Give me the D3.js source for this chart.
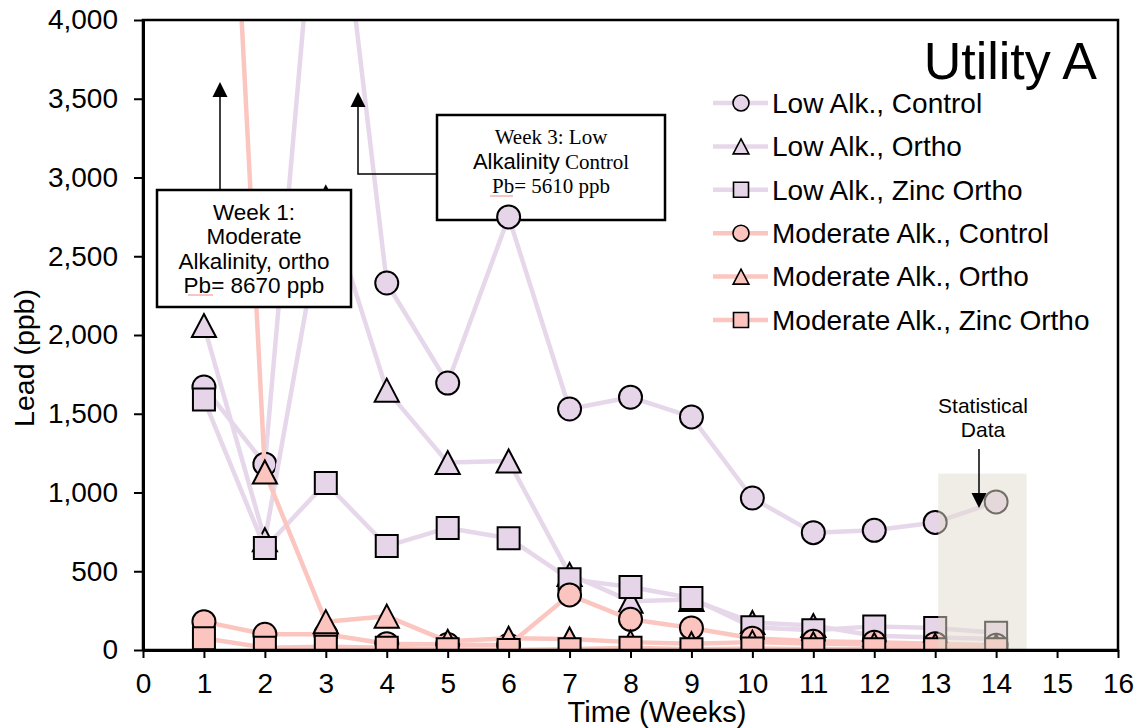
<!DOCTYPE html>
<html>
<head>
<meta charset="utf-8">
<script src="https://cdn.jsdelivr.net/npm/d3@7"></script>
<style>
  body { margin: 0; background: #fff; }
  text { font-family: "Liberation Sans", Arial, Helvetica, sans-serif; fill: #000; }
  .serif { font-family: "Liberation Serif", "Times New Roman", serif; }
</style>
</head>
<body>
<svg id="chart" width="1139" height="728"></svg>
<script>
// Lead release by week, Utility A
const weeks = [1, 2, 3, 4, 5, 6, 7, 8, 9, 10, 11, 12, 13, 14];

const lowAlkControl   = [1670, 1180, 5610, 2330, 1695, 2750, 1530, 1605, 1480, 965, 745, 760, 810, 940];
const lowAlkOrtho     = [2060, 700, 2870, 1650, 1190, 1200, 480, 310, 320, 175, 155, 90, 80, 70];
const lowAlkZincOrtho = [1590, 648, 1060, 660, 775, 710, 450, 400, 330, 145, 125, 150, 140, 110];
const modAlkControl   = [180, 100, 100, 40, 35, 30, 350, 195, 140, 75, 55, 50, 40, 30];
const modAlkOrtho     = [8670, 1130, 180, 215, 55, 75, 70, 50, 40, 50, 40, 35, 30, 25];
const modAlkZincOrtho = [75, 15, 20, 15, 5, 0, 5, 15, 5, 10, 5, 5, 5, 5];

const seriesNames = [
  "Low Alk., Control", "Low Alk., Ortho", "Low Alk., Zinc Ortho",
  "Moderate Alk., Control", "Moderate Alk., Ortho", "Moderate Alk., Zinc Ortho"
];
const seriesShapes = ["circle", "triangle", "square", "circle", "triangle", "square"];

const xTickValues = [0, 1, 2, 3, 4, 5, 6, 7, 8, 9, 10, 11, 12, 13, 14, 15, 16];
const yTickValues = [0, 500, 1000, 1500, 2000, 2500, 3000, 3500, 4000];

// Shaded band marking the weeks used for statistics
const statBand = { x0: 13.05, x1: 14.5, y0: 0, y1: 1120 };

// ---------------------------------------------------------------------------
const svg = d3.select("#chart");
const plot = { left: 143, right: 1118, top: 20, bottom: 650 };

const x = d3.scaleLinear().domain([0, 16]).range([plot.left, plot.right]);
const y = d3.scaleLinear().domain([0, 4000]).range([plot.bottom, plot.top]);

const lowLine = "#e7d7ea", lowFill = "#e6d4e8";
const modLine = "#fcc6c0", modFill = "#fbc4be";

const seriesValues = [lowAlkControl, lowAlkOrtho, lowAlkZincOrtho, modAlkControl, modAlkOrtho, modAlkZincOrtho];
const series = seriesNames.map((name, i) => ({
  name,
  shape: seriesShapes[i],
  line: i < 3 ? lowLine : modLine,
  fill: i < 3 ? lowFill : modFill,
  points: weeks.map((w, j) => ({ week: w, value: seriesValues[i][j] }))
}));

// Marker shapes sized by their bounding box (size = side^2)
const shapeTypes = {
  circle: { draw(ctx, size) { const r = Math.sqrt(size) / 2; ctx.moveTo(r, 0); ctx.arc(0, 0, r, 0, 2 * Math.PI); ctx.closePath(); } },
  square: { draw(ctx, size) { const s = Math.sqrt(size); ctx.rect(-s / 2, -s / 2, s, s); } },
  triangle: { draw(ctx, size) { const s = Math.sqrt(size), h = s / 2; ctx.moveTo(0, -h); ctx.lineTo(h * 1.05, h); ctx.lineTo(-h * 1.05, h); ctx.closePath(); } }
};
const chartSize = { circle: 23, square: 22, triangle: 23 };
const legendSize = { circle: 16, square: 15, triangle: 15 };
const markerPath = (shape, s) => d3.symbol().type(shapeTypes[shape]).size(s * s)();

// clip to plot area
svg.append("defs").append("clipPath").attr("id", "plotClip")
  .append("rect")
  .attr("x", plot.left).attr("y", plot.top)
  .attr("width", plot.right - plot.left).attr("height", plot.bottom - plot.top);

// ---- Week 3 callout box (sits beneath the data)
const box3 = { x: 437, y: 115, w: 228, h: 105 };
svg.append("rect")
  .attr("x", box3.x).attr("y", box3.y).attr("width", box3.w).attr("height", box3.h)
  .attr("fill", "#fff").attr("stroke", "#000").attr("stroke-width", 2.5);
const b3cx = box3.x + box3.w / 2;
svg.append("text").attr("class", "serif").attr("x", b3cx).attr("y", 144)
  .attr("text-anchor", "middle").style("font-size", "21px").text("Week 3: Low");
const t3b = svg.append("text").attr("x", b3cx).attr("y", 169).attr("text-anchor", "middle");
t3b.append("tspan").style("font-size", "22px").text("Alkalinity");
t3b.append("tspan").style("font-family", "'Liberation Serif', 'Times New Roman', serif").style("font-size", "21px").text(" Control");
svg.append("text").attr("class", "serif").attr("x", b3cx).attr("y", 193)
  .attr("text-anchor", "middle").style("font-size", "21px").text("Pb= 5610 ppb");
svg.append("line").attr("x1", 490).attr("x2", 513).attr("y1", 196).attr("y2", 196)
  .attr("stroke", "#f08a8a").attr("stroke-width", 1);

// ---- data series
const dataLayer = svg.append("g").attr("clip-path", "url(#plotClip)");
const lineGen = d3.line().x(d => x(d.week)).y(d => y(d.value));

series.forEach(s => {
  const g = dataLayer.append("g");
  g.append("path")
    .attr("d", lineGen(s.points))
    .attr("fill", "none")
    .attr("stroke", s.line)
    .attr("stroke-width", 4.5)
    .attr("stroke-linejoin", "round");
  g.selectAll("path.marker")
    .data(s.points)
    .join("path")
    .attr("class", "marker")
    .attr("transform", d => `translate(${x(d.week)},${y(d.value)})`)
    .attr("d", markerPath(s.shape, chartSize[s.shape]))
    .attr("fill", s.fill)
    .attr("stroke", "#000")
    .attr("stroke-width", 2);
});

// ---- statistical data band (translucent overlay)
svg.append("rect")
  .attr("x", x(statBand.x0)).attr("y", y(statBand.y1))
  .attr("width", x(statBand.x1) - x(statBand.x0))
  .attr("height", y(statBand.y0) - y(statBand.y1))
  .attr("fill", "rgb(225,219,205)").attr("fill-opacity", 0.5);

// ---- axes
const yAxis = d3.axisLeft(y).tickValues(yTickValues).tickFormat(d3.format(","))
  .tickSize(9).tickSizeOuter(0).tickPadding(16);
const xAxis = d3.axisBottom(x).tickValues(xTickValues).tickFormat(d3.format("d"))
  .tickSize(8).tickSizeOuter(0).tickPadding(15);

const gy = svg.append("g").attr("transform", `translate(${plot.left},0)`).call(yAxis);
const gx = svg.append("g").attr("transform", `translate(0,${plot.bottom})`).call(xAxis);
[gx, gy].forEach(g => {
  g.select(".domain").attr("stroke", "#000").attr("stroke-width", 3);
  g.selectAll(".tick line").attr("stroke", "#000").attr("stroke-width", 2);
  g.selectAll(".tick text").attr("fill", "#000")
    .style("font-family", "'Liberation Sans', Arial, sans-serif").style("font-size", "28px");
});

// plot frame
svg.append("rect")
  .attr("x", plot.left).attr("y", plot.top)
  .attr("width", plot.right - plot.left).attr("height", plot.bottom - plot.top)
  .attr("fill", "none").attr("stroke", "#000").attr("stroke-width", 2.5);

// axis titles
svg.append("text").attr("x", 657).attr("y", 722).attr("text-anchor", "middle")
  .style("font-size", "29px").text("Time (Weeks)");
svg.append("text").attr("transform", "translate(34,358) rotate(-90)").attr("text-anchor", "middle")
  .style("font-size", "28.5px").text("Lead (ppb)");

// ---- title
svg.append("text").attr("x", 1097).attr("y", 79).attr("text-anchor", "end")
  .style("font-size", "52px").text("Utility A");

// ---- legend
const legend = svg.append("g");
series.forEach((s, i) => {
  const ly = 103 + i * 43.4;
  const row = legend.append("g").attr("transform", `translate(0,${ly})`);
  row.append("line").attr("x1", 713).attr("x2", 768).attr("y1", 0).attr("y2", 0)
    .attr("stroke", s.line).attr("stroke-width", 4.5);
  row.append("path").attr("transform", "translate(741,0)")
    .attr("d", markerPath(s.shape, legendSize[s.shape]))
    .attr("fill", s.fill).attr("stroke", "#000").attr("stroke-width", 1.6);
  row.append("text").attr("x", 772).attr("y", 0).attr("dy", "0.35em")
    .style("font-size", "28px").text(s.name);
});

// ---- arrows
function arrowHead(g, tipX, tipY, dir) {
  // dir: -1 points up, +1 points down
  const w = 7.5, h = 15;
  g.append("path")
    .attr("d", `M${tipX},${tipY} L${tipX + w},${tipY - dir * h} L${tipX - w},${tipY - dir * h} Z`)
    .attr("fill", "#000");
}
const arrows = svg.append("g");

// Week 3 arrow: elbow from box edge up to head
arrows.append("path")
  .attr("d", `M${box3.x},174 H358 V100`)
  .attr("fill", "none").attr("stroke", "#000").attr("stroke-width", 1.5);
arrowHead(arrows, 358, 92, -1);

// Week 1 callout box (drawn over the data)
const box1 = { x: 157, y: 190, w: 194, h: 117 };
arrows.append("line").attr("x1", 220).attr("x2", 220).attr("y1", box1.y).attr("y2", 92)
  .attr("stroke", "#000").attr("stroke-width", 1.5);
arrowHead(arrows, 220, 82, -1);

svg.append("rect")
  .attr("x", box1.x).attr("y", box1.y).attr("width", box1.w).attr("height", box1.h)
  .attr("fill", "#fff").attr("stroke", "#000").attr("stroke-width", 2.5);
const b1cx = box1.x + box1.w / 2;
["Week 1:", "Moderate", "Alkalinity, ortho", "Pb= 8670 ppb"].forEach((t, i) => {
  svg.append("text").attr("x", b1cx).attr("y", 220 + i * 24.4)
    .attr("text-anchor", "middle").style("font-size", "22.5px").text(t);
});
svg.append("line").attr("x1", 188).attr("x2", 213).attr("y1", 295).attr("y2", 295)
  .attr("stroke", "#f08a8a").attr("stroke-width", 1);

// Statistical data label + arrow
svg.append("text").attr("x", 983).attr("y", 413).attr("text-anchor", "middle")
  .style("font-size", "21px").text("Statistical");
svg.append("text").attr("x", 983).attr("y", 437).attr("text-anchor", "middle")
  .style("font-size", "21px").text("Data");
svg.append("line").attr("x1", 979).attr("x2", 979).attr("y1", 449).attr("y2", 496)
  .attr("stroke", "#000").attr("stroke-width", 1.5);
arrowHead(svg, 979, 508, 1);
</script>
</body>
</html>
